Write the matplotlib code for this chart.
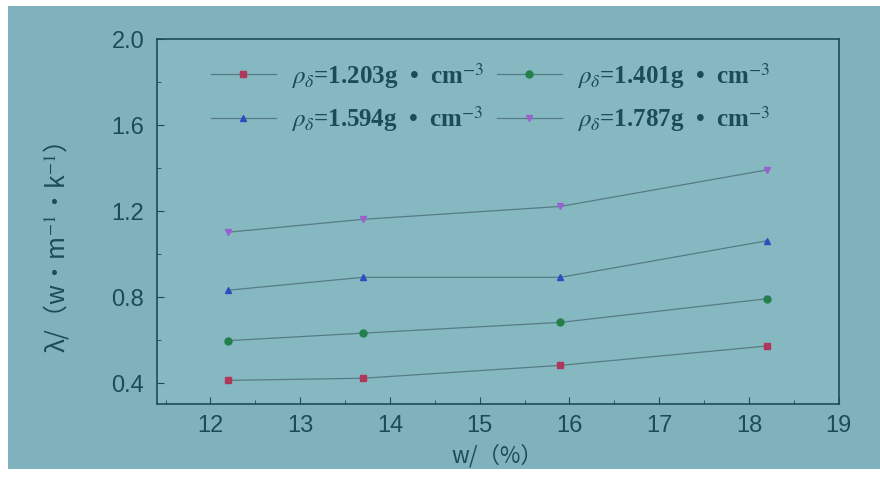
import numpy as np
import matplotlib
matplotlib.use('Agg')
import matplotlib.pyplot as plt
from matplotlib.patches import Rectangle
from matplotlib.ticker import MultipleLocator

# Данные
w = [12.2, 13.7, 15.9, 18.2]
lam_1203 = [0.41, 0.42, 0.48, 0.57]
lam_1401 = [0.595, 0.63, 0.68, 0.79]
lam_1594 = [0.83, 0.89, 0.89, 1.06]
lam_1787 = [1.10, 1.16, 1.22, 1.39]
densities = ['1.203', '1.401', '1.594', '1.787']

bg = '#7fb2bc'
ink = '#1d4c58'
plt.rcParams['mathtext.fontset'] = 'stix'

fig = plt.figure(figsize=(8.8, 4.81), dpi=100, facecolor='white')
# фон "фотографии" слайда
fig.patches.append(Rectangle((8 / 880, 11 / 481), 872 / 880, 463 / 481,
                             transform=fig.transFigure, facecolor=bg,
                             edgecolor='none', zorder=-10))

ax = fig.add_axes([0.178, 0.158, 0.775, 0.759])
ax.set_facecolor('#85b8c1')

series = [lam_1203, lam_1401, lam_1594, lam_1787]
markers = ['s', 'o', '^', 'v']
colors = ['#b0365a', '#23804a', '#2a4fc0', '#9a5fd0']

handles = []
for vals, m, c, d in zip(series, markers, colors, densities):
    h, = ax.plot(w, vals, color='#567c85', lw=0.9, marker=m, markersize=5,
                 markerfacecolor=c, markeredgecolor=c,
                 label=r'$\rho_\delta$=' + d + 'g  •  cm' + r'$^{-3}$')
    handles.append(h)

ax.set_xlim(11.4, 19)
ax.set_ylim(0.3, 2.0)
ax.xaxis.set_major_locator(MultipleLocator(1))
ax.xaxis.set_minor_locator(MultipleLocator(0.5))
ax.yaxis.set_major_locator(MultipleLocator(0.4))
ax.yaxis.set_minor_locator(MultipleLocator(0.2))
ax.tick_params(which='both', direction='in', colors=ink)
ax.tick_params(which='major', length=5)
ax.tick_params(which='minor', length=3)
ax.tick_params(axis='y', pad=9)
ax.tick_params(axis='x', pad=7)
for lab in ax.get_xticklabels() + ax.get_yticklabels():
    lab.set_color(ink)
    lab.set_family('Liberation Sans')
    lab.set_fontsize(17)
for s in ax.spines.values():
    s.set_color(ink)
    s.set_linewidth(1.2)

ax.set_xlabel('w/（%）', fontsize=16, color=ink, family=['Noto Sans CJK SC', 'DejaVu Sans'],
              labelpad=5)
ax.set_ylabel('λ/（w•m' + r'$^{-1}$' + '•k' + r'$^{-1}$' + '）', fontsize=18, color=ink,
              family=['Noto Sans CJK SC', 'DejaVu Sans'])
ax.yaxis.set_label_coords(-0.125, 0.43)

# порядок по строкам: 1.203, 1.401 / 1.594, 1.787
order = [0, 2, 1, 3]
leg = ax.legend([handles[i] for i in order], [handles[i].get_label() for i in order],
                ncol=2, loc='upper left', bbox_to_anchor=(0.065, 0.97),
                borderaxespad=0, frameon=False, columnspacing=0.5,
                handlelength=2.6, handletextpad=0.6, labelspacing=0.55,
                prop={'family': 'Liberation Serif', 'weight': 'bold', 'size': 18})
for t in leg.get_texts():
    t.set_color(ink)

plt.savefig('out.png', dpi=100, facecolor=fig.get_facecolor())
